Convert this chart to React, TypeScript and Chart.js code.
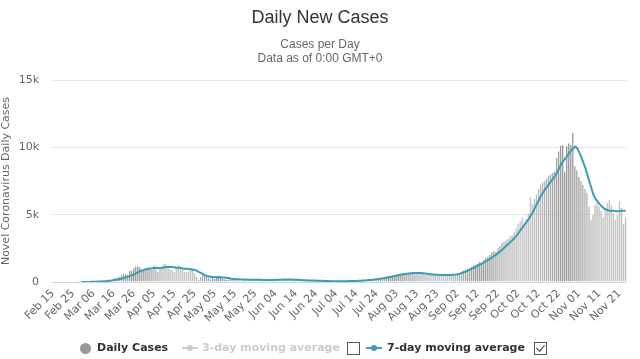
import React, { useEffect, useRef } from "react";
import { Chart, registerables } from "chart.js";

Chart.register(...registerables);

const MONTHS = ["Jan", "Feb", "Mar", "Apr", "May", "Jun", "Jul", "Aug", "Sep", "Oct", "Nov", "Dec"];
const FIRST_DAY = { year: 2020, month: 1, day: 15 };

const DAILY_CASES = [
  0, 0, 0, 0, 0, 0, 0, 0, 0, 0,
  0, 0, 1, 1, 4, 4, 8, 6, 10, 44,
  46, 60, 77, 56, 61, 121, 111, 190, 155, 176,
  278, 292, 346, 409, 534, 637, 573, 545, 811, 852,
  1019, 1172, 1159, 1104, 884, 845, 1019, 1083, 1026, 904,
  1224, 952, 777, 969, 1213, 1335, 1316, 1174, 964, 868,
  734, 1061, 1235, 1140, 1066, 750, 729, 797, 1066, 887,
  655, 400, 171, 386, 514, 475, 445, 335, 199, 387,
  232, 445, 455, 319, 249, 196, 161, 199, 247, 219,
  232, 176, 125, 99, 184, 214, 187, 218, 154, 180,
  96, 146, 200, 180, 174, 125, 95, 130, 147, 199,
  180, 188, 230, 190, 150, 184, 196, 200, 177, 160,
  120, 130, 140, 110, 150, 95, 110, 100, 85, 80,
  90, 75, 70, 85, 60, 55, 50, 60, 45, 65,
  55, 60, 45, 70, 80, 75, 65, 80, 70, 100,
  90, 110, 130, 120, 140, 150, 170, 190, 210, 240,
  260, 280, 300, 330, 360, 400, 420, 450, 480, 520,
  560, 550, 600, 620, 640, 660, 700, 680, 720, 650,
  640, 680, 620, 600, 560, 560, 540, 520, 520, 500,
  480, 500, 520, 540, 510, 530, 560, 540, 570, 600,
  650, 700, 780, 850, 900, 1000, 1050, 1150, 1250, 1300,
  1400, 1500, 1450, 1650, 1800, 1900, 2000, 2200, 2300, 2250,
  2500, 2700, 2900, 3000, 3100, 3200, 3400, 3500, 3700, 4000,
  4300, 4500, 4800, 4400, 4700, 5100, 6300, 5800, 6200, 6500,
  6900, 7200, 7400, 7500, 7700, 7900, 8000, 8100, 8200, 9200,
  9700, 10100, 10200, 8200, 10100, 10300, 10200, 11100, 8600, 8300,
  7800, 7500, 7200, 6900, 6600, 5600, 4600, 5000, 5700, 5900,
  5600, 5300, 4800, 5500, 5900, 6100, 5700, 5100, 4600, 5000,
  6000, 5500, 4300, 4800,
];

const MOVING_AVG_7 = [
  null, null, null, null, null, null, null, null, null, null,
  null, null, null, null, 2, 3, 4, 5, 5, 11,
  17, 25, 35, 42, 46, 50, 60, 82, 100, 116,
  140, 165, 190, 225, 260, 300, 350, 400, 450, 490,
  560, 640, 720, 800, 860, 900, 950, 990, 1010, 1020,
  1040, 1050, 1040, 1030, 1050, 1090, 1110, 1120, 1110, 1120,
  1090, 1050, 1050, 1050, 1010, 990, 990, 960, 940, 920,
  900, 840, 750, 680, 600, 500, 450, 430, 380, 380,
  370, 360, 370, 350, 340, 330, 290, 290, 250, 230,
  220, 210, 200, 190, 190, 190, 180, 175, 170, 165,
  160, 160, 160, 160, 155, 150, 150, 150, 150, 155,
  160, 165, 170, 175, 180, 185, 185, 185, 180, 175,
  170, 160, 150, 140, 130, 125, 120, 115, 110, 105,
  100, 95, 90, 85, 78, 72, 68, 64, 60, 60,
  58, 57, 56, 58, 60, 62, 65, 68, 72, 75,
  80, 88, 95, 105, 115, 125, 140, 155, 170, 190,
  210, 230, 250, 275, 300, 330, 360, 390, 420, 450,
  490, 520, 550, 580, 600, 620, 640, 650, 660, 670,
  670, 665, 660, 650, 630, 610, 590, 570, 555, 540,
  530, 520, 515, 515, 515, 520, 525, 530, 540, 555,
  580, 620, 670, 720, 780, 850, 920, 990, 1060, 1130,
  1210, 1290, 1370, 1450, 1540, 1630, 1720, 1820, 1930, 2040,
  2150, 2270, 2400, 2540, 2680, 2820, 2960, 3100, 3260, 3430,
  3620, 3830, 4050, 4250, 4450, 4650, 4900, 5150, 5450, 5750,
  6050, 6350, 6600, 6850, 7050, 7250, 7450, 7650, 7850, 8100,
  8400, 8700, 8950, 9150, 9350, 9550, 9750, 9900, 10050, 9950,
  9650, 9300, 8900, 8500, 8000, 7500, 7000, 6500, 6200, 6000,
  5800, 5650, 5500, 5400, 5350, 5300, 5300, 5300, 5250, 5250,
  5250, 5300, 5300, 5300,
];

const X_TICK_LABELS = [
  "Feb 15", "Feb 25", "Mar 06", "Mar 16", "Mar 26", "Apr 05", "Apr 15", "Apr 25",
  "May 05", "May 15", "May 25", "Jun 04", "Jun 14", "Jun 24", "Jul 04", "Jul 14",
  "Jul 24", "Aug 03", "Aug 13", "Aug 23", "Sep 02", "Sep 12", "Sep 22", "Oct 02",
  "Oct 12", "Oct 22", "Nov 01", "Nov 11", "Nov 21",
];

const Y_TICK_VALUES = [0, 5000, 10000, 15000];
const Y_TICK_LABELS = ["0", "5k", "10k", "15k"];

const TEAL = "#3a9db3";
const FONT = "'DejaVu Sans', Verdana, sans-serif";
const TITLE_FONT = "'Liberation Sans', Arial, sans-serif";

function makeLabels(): string[] {
  return DAILY_CASES.map((_, i) => {
    const d = new Date(Date.UTC(FIRST_DAY.year, FIRST_DAY.month, FIRST_DAY.day + i));
    return MONTHS[d.getUTCMonth()] + " " + String(d.getUTCDate()).padStart(2, "0");
  });
}

function Checkbox({ left, checked }: { left: number; checked: boolean }) {
  return (
    <div
      style={{
        position: "absolute",
        left,
        top: 342,
        width: 11,
        height: 11,
        border: "1px solid #555",
        background: "#fff",
      }}
    >
      {checked ? (
        <div
          style={{
            position: "absolute",
            left: 3,
            top: 0,
            width: 4,
            height: 7,
            borderRight: "1.5px solid #333",
            borderBottom: "1.5px solid #333",
            transform: "rotate(40deg)",
          }}
        />
      ) : null}
    </div>
  );
}

export default function App() {
  const canvasRef = useRef<HTMLCanvasElement | null>(null);

  useEffect(() => {
    const labels = makeLabels();
    const chart = new Chart(canvasRef.current as HTMLCanvasElement, {
      type: "bar",
      data: {
        labels,
        datasets: [
          {
            type: "line",
            label: "7-day moving average",
            data: MOVING_AVG_7 as any,
            borderColor: TEAL,
            backgroundColor: TEAL,
            borderWidth: 2,
            pointRadius: 0,
            fill: false,
            tension: 0,
            order: 0,
          } as any,
          {
            type: "bar",
            label: "Daily Cases",
            data: DAILY_CASES,
            backgroundColor: "#cdcdcd",
            borderColor: "#8a8a8a",
            borderWidth: { left: 1, right: 0, top: 0, bottom: 0 },
            borderSkipped: false,
            inflateAmount: 0,
            barPercentage: 1,
            categoryPercentage: 0.9,
            order: 1,
          } as any,
        ],
      },
      options: {
        responsive: false,
        animation: false,
        devicePixelRatio: 1,
        layout: { padding: { top: 80, right: 3, left: 0, bottom: 0 } },
        plugins: {
          legend: { display: false },
          tooltip: { enabled: false },
        },
        scales: {
          x: {
            grid: { display: false, drawTicks: false },
            border: { display: true, color: "#ccd6eb" },
            ticks: {
              autoSkip: false,
              minRotation: 45,
              maxRotation: 45,
              color: "#666",
              padding: 5,
              font: { family: FONT, size: 11 },
              callback: (_v: any, i: number) => (X_TICK_LABELS.includes(labels[i]) ? labels[i] : ""),
            },
            afterFit: (s: any) => {
              s.height = 77;
            },
          },
          y: {
            min: 0,
            max: 15000,
            afterBuildTicks: (s: any) => {
              s.ticks = Y_TICK_VALUES.map((v) => ({ value: v }));
            },
            ticks: {
              color: "#666",
              padding: 13,
              font: { family: FONT, size: 11 },
              callback: (v: any) => Y_TICK_LABELS[Y_TICK_VALUES.indexOf(Number(v))],
            },
            grid: { color: "#e6e6e6", drawTicks: false, tickLength: 0 },
            border: { display: false },
            title: {
              display: true,
              text: "Novel Coronavirus Daily Cases",
              color: "#666",
              font: { family: FONT, size: 11 },
              padding: { top: 0, bottom: 0 },
            },
            afterFit: (s: any) => {
              s.width = 52;
            },
          },
        },
      },
    });
    return () => chart.destroy();
  }, []);

  return (
    <div
      style={{
        position: "fixed",
        left: 0,
        top: 0,
        width: 640,
        height: 359,
        background: "#fff",
        overflow: "hidden",
      }}
    >
      <canvas ref={canvasRef} width={640} height={359} style={{ display: "block", width: 640, height: 359 }} />
      <div
        style={{
          position: "absolute",
          left: 0,
          top: 6,
          width: 640,
          textAlign: "center",
          fontFamily: TITLE_FONT,
          fontSize: 18,
          lineHeight: "22px",
          color: "#333",
        }}
      >
        Daily New Cases
      </div>
      <div
        style={{
          position: "absolute",
          left: 0,
          top: 37,
          width: 640,
          textAlign: "center",
          fontFamily: TITLE_FONT,
          fontSize: 12,
          lineHeight: "14px",
          color: "#666",
        }}
      >
        <div>Cases per Day</div>
        <div>Data as of 0:00 GMT+0</div>
      </div>
      <div style={{ position: "absolute", left: 80, top: 343, width: 11, height: 11, borderRadius: 6, background: "#999" }} />
      <div
        style={{
          position: "absolute",
          left: 97,
          top: 340,
          fontFamily: FONT,
          fontWeight: "bold",
          fontSize: 11,
          lineHeight: "16px",
          color: "#333",
          whiteSpace: "nowrap",
        }}
      >
        Daily Cases
      </div>
      <div style={{ position: "absolute", left: 182, top: 347, width: 16, height: 2, background: "#ccc" }} />
      <div style={{ position: "absolute", left: 187, top: 345, width: 6, height: 6, borderRadius: 3, background: "#ccc" }} />
      <div
        style={{
          position: "absolute",
          left: 202,
          top: 340,
          fontFamily: FONT,
          fontWeight: "bold",
          fontSize: 11,
          lineHeight: "16px",
          color: "#ccc",
          whiteSpace: "nowrap",
        }}
      >
        3-day moving average
      </div>
      <Checkbox left={347} checked={false} />
      <div style={{ position: "absolute", left: 366, top: 347, width: 16, height: 2, background: TEAL }} />
      <div style={{ position: "absolute", left: 371, top: 345, width: 6, height: 6, borderRadius: 3, background: TEAL }} />
      <div
        style={{
          position: "absolute",
          left: 387,
          top: 340,
          fontFamily: FONT,
          fontWeight: "bold",
          fontSize: 11,
          lineHeight: "16px",
          color: "#333",
          whiteSpace: "nowrap",
        }}
      >
        7-day moving average
      </div>
      <Checkbox left={534} checked={true} />
    </div>
  );
}
